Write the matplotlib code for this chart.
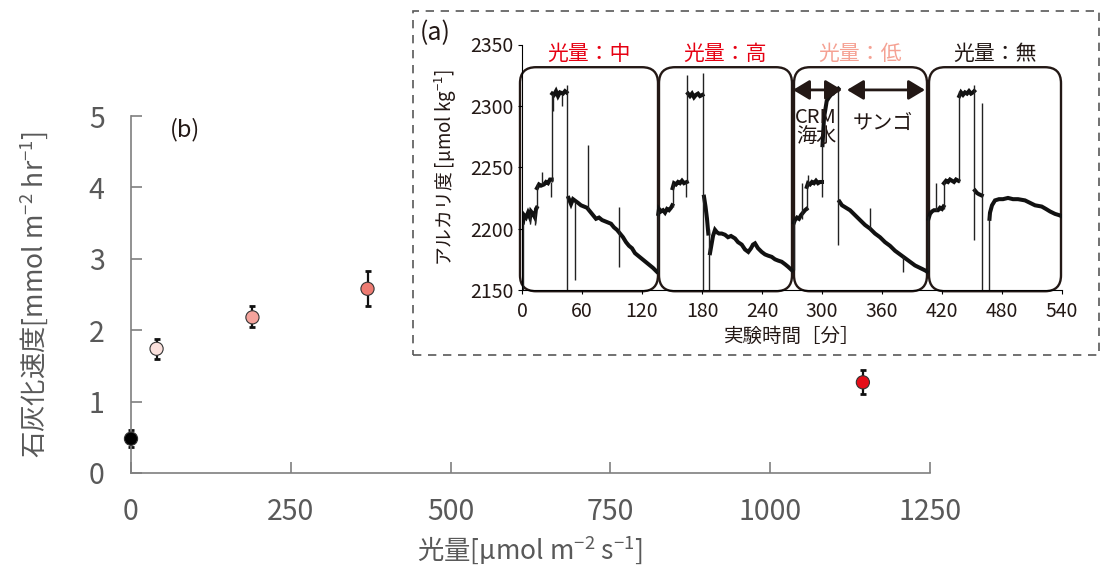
import matplotlib
matplotlib.use('Agg')
import matplotlib.pyplot as plt
from matplotlib.patches import FancyBboxPatch, Rectangle

plt.rcParams['font.family'] = ['Noto Sans CJK JP', 'DejaVu Sans']
plt.rcParams['mathtext.fontset'] = 'custom'
plt.rcParams['mathtext.rm'] = 'Noto Sans CJK JP'
plt.rcParams['mathtext.it'] = 'Noto Sans CJK JP'
plt.rcParams['mathtext.bf'] = 'Noto Sans CJK JP'

nan = float('nan')

# (b) calcification rate vs light
light = [0, 40, 190, 370, 1145]
rate = [0.48, 1.74, 2.18, 2.58, 1.27]
err_lo = [0.12, 0.14, 0.14, 0.24, 0.16]
err_hi = [0.12, 0.14, 0.16, 0.25, 0.17]
point_colors = ['#000000', '#fbe1dd', '#f4a39c', '#ee7b72', '#e50d18']

# (a) alkalinity time series (nan = break in trace)
time_min = [1, 2, 4, 6, 8, 9, 11, 13, 14, 14.7, nan,
            15, 17, 19, 22, 24, 26, 28, 29.7, nan,
            30.3, 32, 34, 36, 38, 41, 43, 44.5, nan,
            46.5, 49, 51, 56, 59, 62, 65, 68, 71, 74, 77, 80, 83, 86, 89, 92, 95, 98,
            101, 104, 107, 110, 113, 116, 119, 122, 125, 128, 131, 134.7, nan,
            136.3, 137, 139, 141, 143, 145, 147, 149, 150.3, nan,
            150.6, 152, 154, 156, 158, 160, 162, 164.8, nan,
            166, 168, 170, 172, 174, 176, 178, 180.5, nan,
            182, 183.5, 185, 186.3, nan,
            188, 189.7, 191, 193, 195, 197, 199.7,
            203, 206, 209, 213, 216, 219.7, 223, 226.3, 229, 231, 233, 236, 239.7,
            243, 246, 249.7, 253, 256, 259.7, 263, 266, 270, nan,
            272, 273, 275, 277, 279, 281, 283, 284.5, nan,
            284.8, 286, 288, 290, 292, 294, 296, 298, 300, nan,
            300.5, 302, 304.7, 307, 309, 311, 313, 315, 316.3, nan,
            317.5, 320, 324, 328, 333, 338, 343, 348, 353, 358, 363, 368,
            373, 378, 383, 388, 393, 398, 403, 405, nan,
            406.5, 408, 410, 412, 416, 418, 420, 421.5, nan,
            422, 424, 426, 428, 430, 432, 434, 436.3, nan,
            437.3, 439, 441, 443, 445, 447, 449, 451, 452.2, nan,
            453, 455, 457, 459.7, nan,
            467.5, 468, 470, 473, 477, 481, 486, 491, 496, 503, 508, 513, 519.7,
            524, 528, 533, 537, 540]
alkalinity = [2205, 2211, 2209, 2213, 2209, 2214, 2212, 2209, 2216, 2217, nan,
              2233, 2236, 2235, 2236, 2238, 2237, 2240, 2240, nan,
              2310, 2309, 2312, 2308, 2311, 2310, 2312, 2311, nan,
              2225, 2220, 2224, 2221, 2219, 2218, 2217, 2214, 2211, 2208, 2209, 2207, 2206,
              2205, 2204, 2201, 2199, 2196,
              2193, 2189, 2186, 2184, 2180, 2178, 2176, 2174, 2172, 2170, 2168, 2165, nan,
              2212, 2216, 2214, 2215, 2213, 2216, 2215, 2217, 2219, nan,
              2233, 2237, 2236, 2238, 2237, 2239, 2237, 2238, nan,
              2310, 2308, 2310, 2307, 2309, 2310, 2308, 2309, nan,
              2226, 2218, 2208, 2196, nan,
              2180, 2188, 2194, 2199, 2197, 2196, 2196,
              2195, 2193, 2194, 2192, 2189, 2187, 2183, 2181, 2184, 2187, 2188, 2184, 2181,
              2179, 2178, 2177, 2175, 2174, 2173, 2171, 2169, 2166, nan,
              2205, 2207, 2209, 2208, 2211, 2213, 2215, 2216, nan,
              2234, 2237, 2236, 2238, 2237, 2239, 2237, 2238, 2238, nan,
              2268, 2290, 2304, 2307, 2309, 2310, 2312, 2313, 2314, nan,
              2222, 2219, 2217, 2215, 2211, 2207, 2203, 2200, 2196, 2193, 2189, 2186,
              2182, 2179, 2176, 2173, 2170, 2168, 2166, 2165, nan,
              2208, 2212, 2214, 2215, 2215, 2217, 2216, 2218, nan,
              2237, 2239, 2238, 2240, 2239, 2238, 2240, 2239, nan,
              2308, 2311, 2309, 2311, 2310, 2312, 2310, 2311, 2312, nan,
              2231, 2229, 2228, 2227, nan,
              2208, 2213, 2219, 2223, 2224, 2224, 2225, 2224, 2224, 2223, 2221, 2219, 2218,
              2216, 2214, 2212, 2211, 2210]
# thin vertical strokes (steps, drops and spikes): time, low, high
spike_t = [0.5, 8, 13, 14.8, 20, 29, 30, 31, 39.7, 44.7, 53, 66.3, 97.3, 135.5,
           150.5, 163.7, 165.3, 180.7, 186.5,
           271.5, 280.3, 284.7, 286.3, 300.3, 316.4, 348, 381.3,
           405.8, 414, 421.8, 437, 452.3, 460.3, 467]
spike_lo = [2150, 2204, 2203, 2216, 2236, 2226, 2238, 2296, 2300, 2150, 2158, 2215, 2169, 2165,
            2218, 2226, 2238, 2150, 2150,
            2166, 2208, 2215, 2236, 2226, 2187, 2200, 2165,
            2166, 2214, 2216, 2238, 2191, 2150, 2150]
spike_hi = [2205, 2212, 2213, 2236, 2246, 2238, 2310, 2310, 2310, 2317, 2222, 2268, 2218, 2214,
            2237, 2238, 2325, 2327, 2200,
            2207, 2237, 2237, 2244, 2268, 2314, 2217, 2178,
            2210, 2237, 2239, 2312, 2317, 2302, 2212]

# light condition blocks
block_start = [-2, 137, 272, 407]
block_end = [136, 270, 405, 539]
block_labels = ['光量：中', '光量：高', '光量：低', '光量：無']
block_colors = ['#e60012', '#e60012', '#f5a193', '#231815']

W, H = 1103, 568
fig = plt.figure(figsize=(W / 100, H / 100), dpi=100)

gray = '#595959'
ax = fig.add_axes([131 / W, 1 - 473 / H, 799 / W, 357 / H])
ax.errorbar(light, rate, yerr=[err_lo, err_hi], fmt='none', ecolor='#111111',
            elinewidth=1.6, capsize=2.5, capthick=2, clip_on=False, zorder=2)
ax.scatter(light, rate, s=90, c=point_colors, edgecolors='#333333', linewidths=0.8,
           clip_on=False, zorder=3)
ax.set_xlim(0, 1250)
ax.set_ylim(0, 5)
ax.set_xticks(range(0, 1251, 250))
ax.set_yticks(range(0, 6))
for s in ['top', 'right']:
    ax.spines[s].set_visible(False)
for s in ['left', 'bottom']:
    ax.spines[s].set_color('#7f7f7f')
    ax.spines[s].set_linewidth(1.2)
ax.tick_params(direction='in', length=8, width=1.2, color='#7f7f7f',
               labelcolor=gray, labelsize=20.5)
ax.tick_params(axis='y', pad=19)
ax.tick_params(axis='x', pad=17)
ax.set_xlabel('光量[μmol m$^{-2}$ s$^{-1}$]', fontsize=19, color=gray, labelpad=5)
ax.set_ylabel('石灰化速度[mmol m$^{-2}$ hr$^{-1}$]', fontsize=19, color=gray, labelpad=28)
fig.text(185 / W, 1 - 130 / H, '(b)', fontsize=17, color='#231815',
         ha='center', va='center')

# dashed frame around inset
fig.patches.append(Rectangle((413 / W, 1 - 355 / H), 686 / W, 344 / H,
                             transform=fig.transFigure, facecolor='white',
                             edgecolor=gray, linewidth=1.2, linestyle=(0, (5, 4)),
                             zorder=1))

# (a) inset
ax_in = fig.add_axes([522 / W, 1 - 290 / H, 540 / W, 245.5 / H], zorder=2)
ax_in.set_facecolor('none')
ax_in.plot(time_min, alkalinity, color='#111111', lw=2.9, solid_joinstyle='miter')
ax_in.vlines(spike_t, spike_lo, spike_hi, color='#222222', lw=1.0)
ax_in.set_xlim(0, 540)
ax_in.set_ylim(2150, 2350)
ax_in.set_xticks(range(0, 541, 60))
ax_in.set_yticks(range(2150, 2351, 50))
for s in ['top', 'right']:
    ax_in.spines[s].set_visible(False)
ax_in.tick_params(direction='out', length=3, width=0.8, labelsize=14,
                  labelcolor='#231815', pad=3)
ax_in.tick_params(axis='x', pad=5)
ax_in.set_xlabel('実験時間［分］', fontsize=14, color='#231815', labelpad=3)
ax_in.set_ylabel('アルカリ度 [μmol kg$^{-1}$]', fontsize=13.5, color='#231815', labelpad=8)

for x0, x1, lab, col in zip(block_start, block_end, block_labels, block_colors):
    ax_in.add_patch(FancyBboxPatch((x0, 2149), x1 - x0, 182.5,
                                   boxstyle='round,pad=0,rounding_size=16',
                                   mutation_aspect=1 / 1.23, facecolor='none',
                                   edgecolor='#231815', lw=1.7, clip_on=False))
    ax_in.text((x0 + x1) / 2, 2342.5, lab, color=col, fontsize=15,
               ha='center', va='center', clip_on=False)

arrow = dict(arrowstyle='<|-|>,head_length=0.5,head_width=0.3', color='#231815',
             lw=2, shrinkA=0, shrinkB=0, mutation_scale=20)
ax_in.annotate('', xy=(271, 2313), xytext=(320, 2313), arrowprops=arrow)
ax_in.annotate('', xy=(325, 2313), xytext=(403, 2313), arrowprops=arrow)
ax_in.text(294, 2283, 'CRM\n海水', fontsize=14.5, color='#231815', ha='center',
           va='center', linespacing=0.9)
ax_in.text(360.5, 2286, 'サンゴ', fontsize=14.5, color='#231815', ha='center', va='center')
fig.text(435 / W, 1 - 33 / H, '(a)', fontsize=18, color='#231815',
         ha='center', va='center')

fig.savefig('out.png', dpi=100)
